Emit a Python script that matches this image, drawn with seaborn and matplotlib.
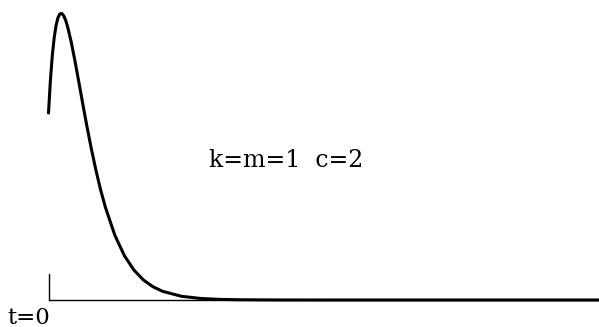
import matplotlib
matplotlib.use("Agg")
import matplotlib.pyplot as plt
import seaborn as sns
import pandas as pd

# Critically damped oscillator response, k = m = 1, c = 2 (displacement vs. time)
t_values = [0.0, 0.1, 0.2, 0.3, 0.4, 0.5, 0.6, 0.7, 0.8, 0.9, 1.0,
            1.2, 1.4, 1.6, 1.8, 2.0, 2.25, 2.5, 2.75, 3.0, 3.5, 4.0,
            4.5, 5.0, 5.5, 6.0, 7.0, 8.0, 9.0, 10.0, 12.0, 15.0, 29.0]
x_values = [1.000, 1.1745, 1.3067, 1.4031, 1.4694, 1.5102, 1.5301, 1.5325,
            1.5205, 1.4971, 1.4642, 1.3783, 1.2754, 1.1646, 1.0520, 0.9419,
            0.8121, 0.6936, 0.5876, 0.4949, 0.3452, 0.2367, 0.1601, 0.1071,
            0.0711, 0.0468, 0.0199, 0.0083, 0.0034, 0.0014, 0.0002, 0.0, 0.0]

label_params = "k=m=1  c=2"
label_origin = "t=0"

df = pd.DataFrame({"t": t_values, "x": x_values})

sns.set_style("white")
plt.rcParams["font.family"] = ["DejaVu Serif", "Liberation Serif"]

W, H = 599, 327
fig = plt.figure(figsize=(W / 100, H / 100), dpi=100)
ax = fig.add_axes([48.5 / W, 27 / H, 1 - 48.5 / W, 287 / H])

sns.lineplot(data=df, x="t", y="x", ax=ax, color="black", linewidth=2.2,
             estimator=None, sort=False)
for line in ax.lines:
    line.set_clip_on(False)

ax.set_xlim(0, 29)
ax.set_ylim(0, 1.535)

# time axis and the short marker at t = 0
ax.plot([0, 29], [0, 0], color="black", linewidth=1.0, clip_on=False)
ax.plot([0, 0], [0, 0.139], color="black", linewidth=1.0, clip_on=False)

for s in ax.spines.values():
    s.set_visible(False)
ax.set_xticks([])
ax.set_yticks([])
ax.set_xlabel("")
ax.set_ylabel("")

fig.text(209 / W, (H - 167.3) / H, label_params, fontsize=17,
         ha="left", va="baseline", color="black")
fig.text(7 / W, (H - 324.5) / H, label_origin, fontsize=16.5,
         ha="left", va="baseline", color="black")

fig.savefig("out.png", dpi=100, facecolor="white")
